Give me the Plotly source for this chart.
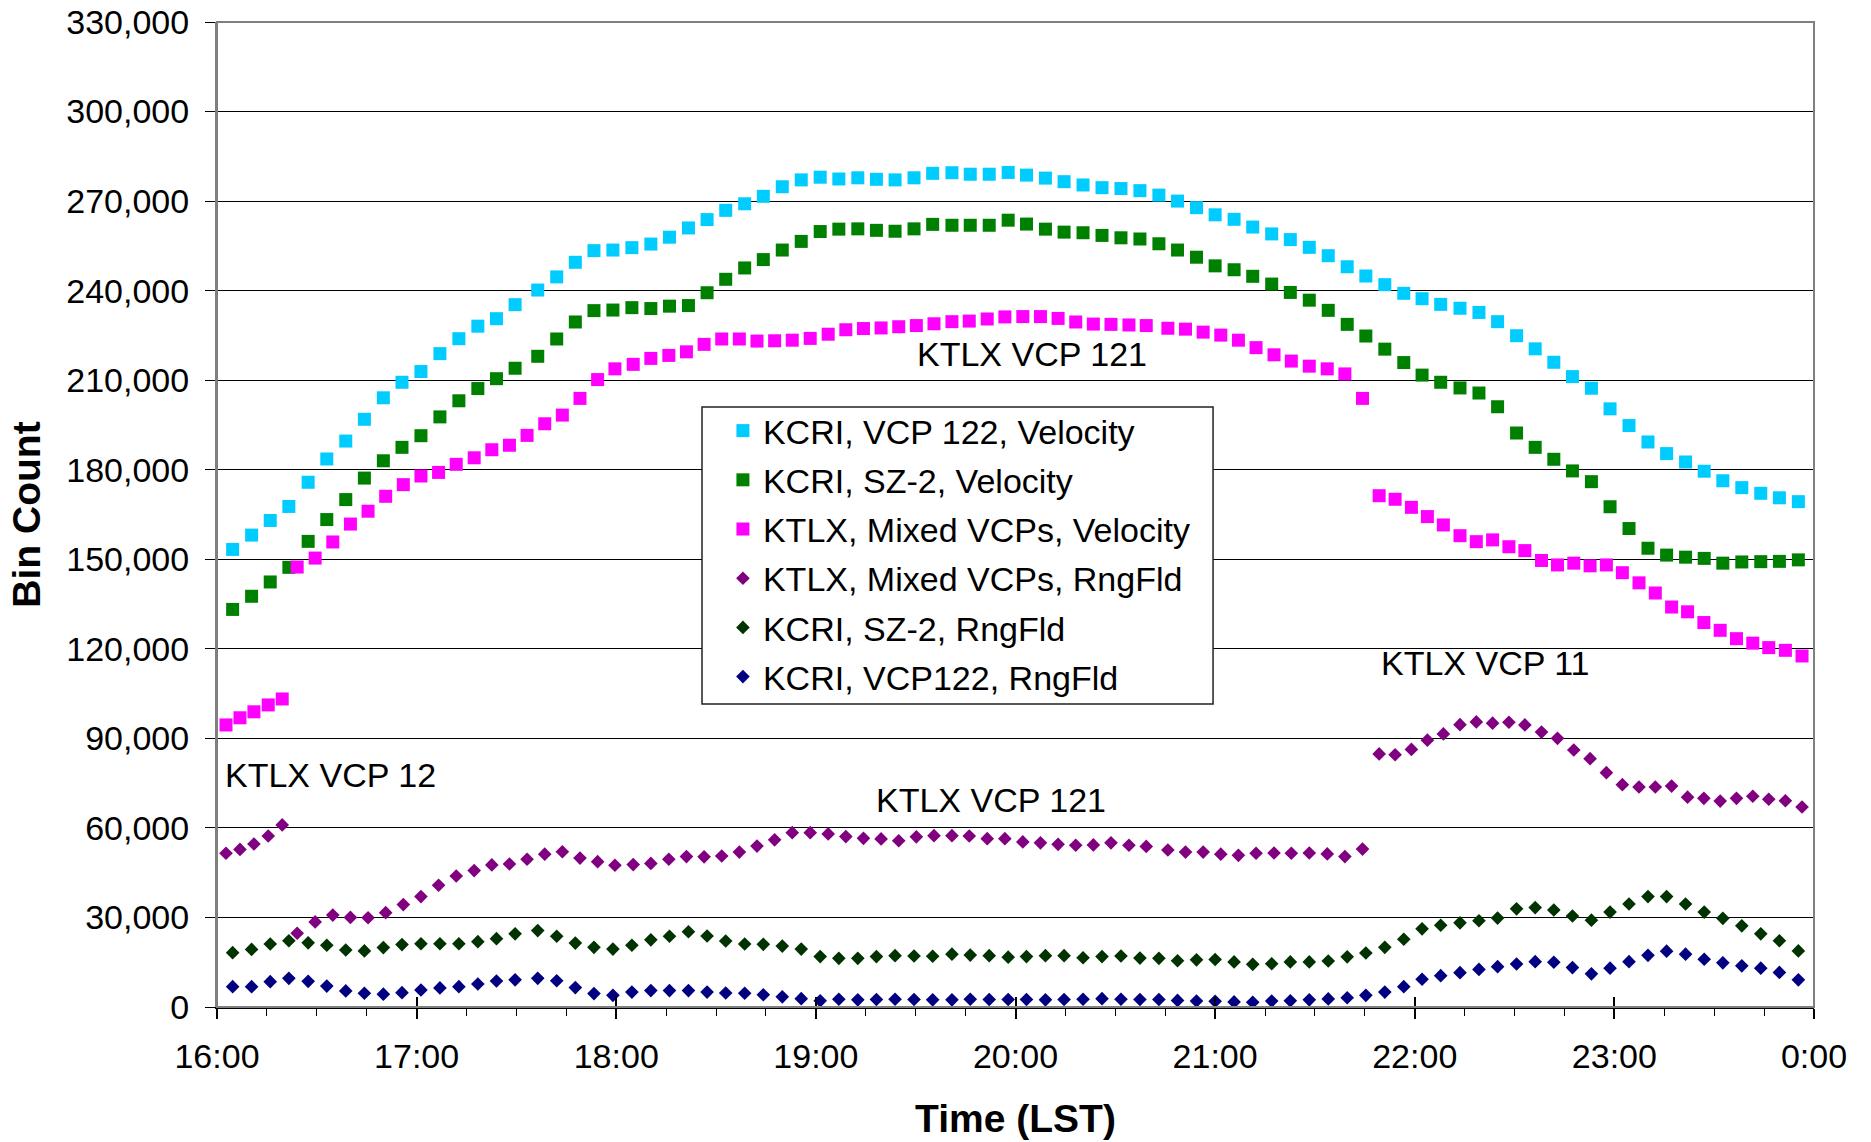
import plotly.graph_objects as go

# ---------------- data ----------------
# minutes after 16:00 LST
kcri_minutes = [4.7, 10.4, 16.0, 21.6, 27.4, 33.0, 38.7, 44.3, 50.0, 55.6,
                61.3, 67.0, 72.7, 78.4, 84.0, 89.6, 96.4, 102.1, 107.7, 113.3,
                119.0, 124.7, 130.4, 136.0, 141.7, 147.3, 152.9, 158.6, 164.2, 169.9,
                175.6, 181.3, 186.9, 192.6, 198.2, 203.8, 209.5, 215.1, 220.9, 226.4,
                232.1, 237.8, 243.3, 249.0, 254.6, 260.3, 266.0, 271.7, 277.4, 283.1,
                288.7, 294.4, 300.0, 305.7, 311.3, 317.0, 322.6, 328.3, 334.0, 339.7,
                345.3, 351.0, 356.7, 362.2, 367.8, 373.6, 379.3, 384.9, 390.6, 396.2,
                401.8, 407.4, 413.1, 418.7, 424.4, 430.1, 435.7, 441.4, 447.0, 452.6,
                458.3, 464.0, 469.6, 475.3]

ktlx_minutes = [2.7, 6.9, 11.1, 15.4, 19.6,
                24.1, 29.5, 34.8, 40.1, 45.4, 50.7, 56.0, 61.3, 66.6, 71.9,
                77.3, 82.6, 87.9, 93.2, 98.5, 103.8, 109.1, 114.4, 119.6, 125.1,
                130.4, 135.8, 141.1, 146.4, 151.7, 157.0, 162.3, 167.6, 172.9, 178.3,
                183.7, 189.0, 194.3, 199.6, 204.9, 210.2, 215.5, 220.9, 226.1, 231.5,
                236.8, 242.2, 247.5, 252.8, 258.1, 263.4, 268.7, 274.1, 279.3, 285.8,
                291.1, 296.4, 301.7, 307.0, 312.3, 317.7, 322.9, 328.3, 333.7, 339.0,
                344.3,
                349.3, 354.1, 359.0, 363.8, 368.6, 373.6, 378.5, 383.4, 388.3, 393.1,
                398.1, 402.9, 407.8, 412.7, 417.6, 422.4, 427.4, 432.3, 437.2, 442.0,
                446.9, 451.8, 456.7, 461.6, 466.4, 471.4, 476.4]

kcri_vcp122_velocity = [153300, 158100, 163000, 167700, 175800, 183600, 189600, 196900, 204100, 209300,
                        212900, 218900, 223900, 228100, 230600, 235300, 240200, 244600, 249500, 253400,
                        253600, 254400, 255600, 257900, 261000, 263800, 266900, 269100, 271600, 274800,
                        277100, 278000, 277400, 277800, 277300, 277100, 277800, 279300, 279500, 279000,
                        279000, 279600, 278700, 277700, 276500, 275400, 274500, 274200, 273500, 272000,
                        270000, 267800, 265400, 263900, 261300, 259000, 257100, 254500, 251700, 248000,
                        244900, 242000, 239100, 237300, 235400, 234100, 232700, 229600, 224900, 220500,
                        216000, 211200, 207300, 200400, 194800, 189300, 185400, 182600, 179500, 176300,
                        174000, 172100, 170600, 169300]

kcri_sz2_velocity = [133200, 137600, 142400, 147300, 156000, 163300, 170000, 177200, 183000, 187500,
                     191400, 197700, 203100, 207200, 210500, 214000, 218000, 223800, 229500, 233300,
                     233500, 234300, 234000, 234800, 235000, 239300, 243800, 247600, 250400, 253600,
                     256500, 259800, 260600, 260700, 260200, 259900, 260700, 262200, 261900, 261900,
                     261900, 263600, 262300, 260600, 259600, 259400, 258500, 257700, 257300, 255700,
                     253600, 251200, 248300, 247000, 244800, 242200, 239400, 236800, 233400, 228700,
                     224800, 220400, 215900, 211700, 209300, 207400, 205700, 201100, 192300, 187500,
                     183500, 179600, 176000, 167600, 160300, 153700, 151400, 150700, 150300, 148700,
                     149100, 149200, 149300, 149800]

ktlx_mixed_velocity = [94500, 96900, 98900, 101200, 103200,
                       147400, 150400, 155800, 161800, 166100, 171100, 175000, 177900, 179100, 181800,
                       184000, 186700, 188200, 191500, 195400, 198300, 203900, 210200, 213800, 215300,
                       217300, 218300, 219500, 222000, 223800, 223800, 223100, 223200, 223400, 224000,
                       225400, 226900, 227300, 227500, 227900, 228300, 228900, 229600, 229800, 230500,
                       231200, 231300, 231300, 230700, 229500, 228800, 228700, 228500, 228300, 227400,
                       227100, 226100, 225100, 223400, 220900, 218500, 216400, 214700, 213800, 212100,
                       203900,
                       171300, 170100, 167400, 164300, 161500, 157900, 155900, 156500, 154200, 152900,
                       149600, 148100, 148700, 147800, 148100, 145500, 142100, 138700, 134000, 132400,
                       128800, 126200, 123400, 121900, 120400, 119500, 117600]

ktlx_mixed_rngfld = [51500, 52800, 54600, 57300, 61000,
                     24700, 28500, 30800, 30000, 29900, 31600, 34300, 37000, 40800, 43900,
                     45700, 47600, 47900, 49500, 51200, 52000, 49900, 48700, 47500, 47700,
                     48100, 49500, 50400, 50300, 50600, 51900, 53900, 56000, 58400, 58400,
                     58000, 57100, 56500, 56300, 55700, 57000, 57400, 57400, 57300, 56400,
                     56400, 55300, 55000, 54500, 54200, 54300, 55000, 54200, 53800, 52600,
                     51900, 51900, 51200, 50800, 51500, 51600, 51500, 51600, 51300, 50400,
                     52900,
                     84800, 84500, 86300, 89400, 91500, 94600, 95500, 95100, 95400, 94500,
                     92100, 90000, 86100, 83200, 78500, 74500, 73700, 73700, 74000, 70300,
                     69900, 69000, 69900, 70600, 69600, 69100, 67000]

kcri_sz2_rngfld = [18200, 19300, 21100, 22200, 21500, 20700, 19100, 18800, 19900, 20900,
                   21200, 21200, 21200, 21900, 22900, 24500, 25600, 23700, 21400, 20000,
                   19400, 20700, 22500, 23700, 25200, 23800, 22100, 21100, 21000, 20400,
                   19400, 16900, 16300, 16300, 16900, 17200, 17100, 17000, 17700, 17400,
                   17200, 16700, 16900, 17200, 17200, 16500, 16900, 17100, 16400, 16300,
                   15500, 15800, 15900, 15100, 14300, 14500, 15100, 15100, 15400, 16800,
                   18100, 20000, 22700, 26200, 27400, 28200, 28900, 29800, 32900, 33300,
                   32500, 30500, 29100, 31800, 34500, 37000, 37000, 34500, 31800, 29700,
                   27200, 24500, 22200, 18800]

kcri_vcp122_rngfld = [6800, 6800, 8500, 9600, 8600, 7000, 5400, 4600, 4300, 4800,
                      5700, 6400, 6800, 7700, 8700, 9100, 9600, 8800, 6500, 4500,
                      3900, 5000, 5500, 5500, 5500, 5000, 4700, 4600, 4100, 3400,
                      2800, 2100, 2600, 2400, 2500, 2600, 2500, 2400, 2400, 2600,
                      2500, 2500, 2500, 2400, 2500, 2600, 2800, 2600, 2500, 2500,
                      2200, 2000, 1900, 1700, 1600, 2000, 2100, 2400, 2700, 3100,
                      3900, 5000, 6800, 9300, 10500, 11500, 12600, 13500, 14400, 15200,
                      15000, 13200, 11100, 13000, 15200, 17300, 18700, 17700, 16000, 14800,
                      13800, 13000, 11600, 9100]

hour_ticks = [16, 17, 18, 19, 20, 21, 22, 23, 24]
hour_labels = ["16:00", "17:00", "18:00", "19:00", "20:00", "21:00", "22:00", "23:00", "0:00"]

series = [
    ("KCRI, VCP 122, Velocity", kcri_minutes, kcri_vcp122_velocity, "#00CCFF", "square"),
    ("KCRI, SZ-2, Velocity", kcri_minutes, kcri_sz2_velocity, "#008000", "square"),
    ("KTLX, Mixed VCPs, Velocity", ktlx_minutes, ktlx_mixed_velocity, "#FF00FF", "square"),
    ("KTLX, Mixed VCPs, RngFld", ktlx_minutes, ktlx_mixed_rngfld, "#800080", "diamond"),
    ("KCRI, SZ-2, RngFld", kcri_minutes, kcri_sz2_rngfld, "#003300", "diamond"),
    ("KCRI, VCP122, RngFld", kcri_minutes, kcri_vcp122_rngfld, "#000080", "diamond"),
]

FONT = "Liberation Sans, Arial, sans-serif"
FS = 34

fig = go.Figure()
for i, (name, mins, vals, color, sym) in enumerate(series):
    fig.add_trace(go.Scatter(
        x=[16 + m / 60.0 for m in mins], y=vals, name=name, mode="markers",
        legendgroup=f"g{i}",
        marker=dict(symbol=sym, color=color, size=13 if sym == "square" else 10.5,
                    line=dict(width=0)),
    ))

# dummy trace on overlay axis to draw the inside half of the major x ticks
fig.add_trace(go.Scatter(x=[16], y=[0], xaxis="x2", mode="markers",
                         marker=dict(opacity=0), showlegend=False, hoverinfo="skip"))

fig.update_layout(
    width=1871, height=1142,
    margin=dict(l=217, r=57, t=22, b=135),
    paper_bgcolor="white", plot_bgcolor="white",
    font=dict(family=FONT, size=FS, color="black"),
    showlegend=True,
    legend=dict(x=0.3168, y=0.6142, xanchor="left", yanchor="top",
                bgcolor="rgba(0,0,0,0)", borderwidth=0,
                font=dict(size=FS), tracegroupgap=2, itemwidth=30),
    xaxis=dict(range=[16, 24], tickvals=hour_ticks, ticktext=hour_labels, automargin=False,
               showgrid=False, zeroline=False, showline=True, linecolor="black", linewidth=1.5,
               ticks="outside", ticklen=10, tickwidth=1.5, tickcolor="black",
               minor=dict(dtick=0.25, ticks="outside", ticklen=7, tickwidth=1, tickcolor="black",
                          showgrid=False),
               ticklabelstandoff=8,
               title=dict(text="<b>Time (LST)</b>", font=dict(size=39), standoff=31)),
    xaxis2=dict(overlaying="x", range=[16, 24], tickvals=hour_ticks, showticklabels=False,
                ticks="inside", ticklen=10, tickwidth=1.5, tickcolor="black", automargin=False,
                showgrid=False, zeroline=False, showline=False, side="bottom"),
    yaxis=dict(range=[0, 330000], dtick=30000, tickformat=",d", automargin=False,
               showgrid=True, gridcolor="#000000", gridwidth=1,
               zeroline=False, showline=True, linecolor="#808080", linewidth=2,
               ticks="outside", ticklen=10, tickwidth=1, tickcolor="black",
               ticklabelstandoff=9,
               title=dict(text="<b>Bin Count</b>", font=dict(size=39), standoff=14)),
    shapes=[
        dict(type="rect", xref="paper", yref="paper", x0=0, x1=1, y0=0, y1=1,
             line=dict(color="#808080", width=2), layer="above"),
        # legend frame
        dict(type="rect", xref="paper", yref="paper", x0=0.3037, x1=0.6237, y0=0.3076, y1=0.6091,
             line=dict(color="#222222", width=1.5), fillcolor="white", layer="above"),
    ],
)

ann = [
    ("KTLX VCP 121", 20.081, 218800),
    ("KTLX VCP 12", 16.571, 77700),
    ("KTLX VCP 121", 19.875, 69300),
    ("KTLX VCP 11", 22.355, 115200),
]
for text, x, y in ann:
    fig.add_annotation(x=x, y=y, text=text, showarrow=False, xref="x", yref="y",
                       font=dict(size=FS, color="black", family=FONT),
                       xanchor="center", yanchor="middle")

fig.write_html("out.html")
